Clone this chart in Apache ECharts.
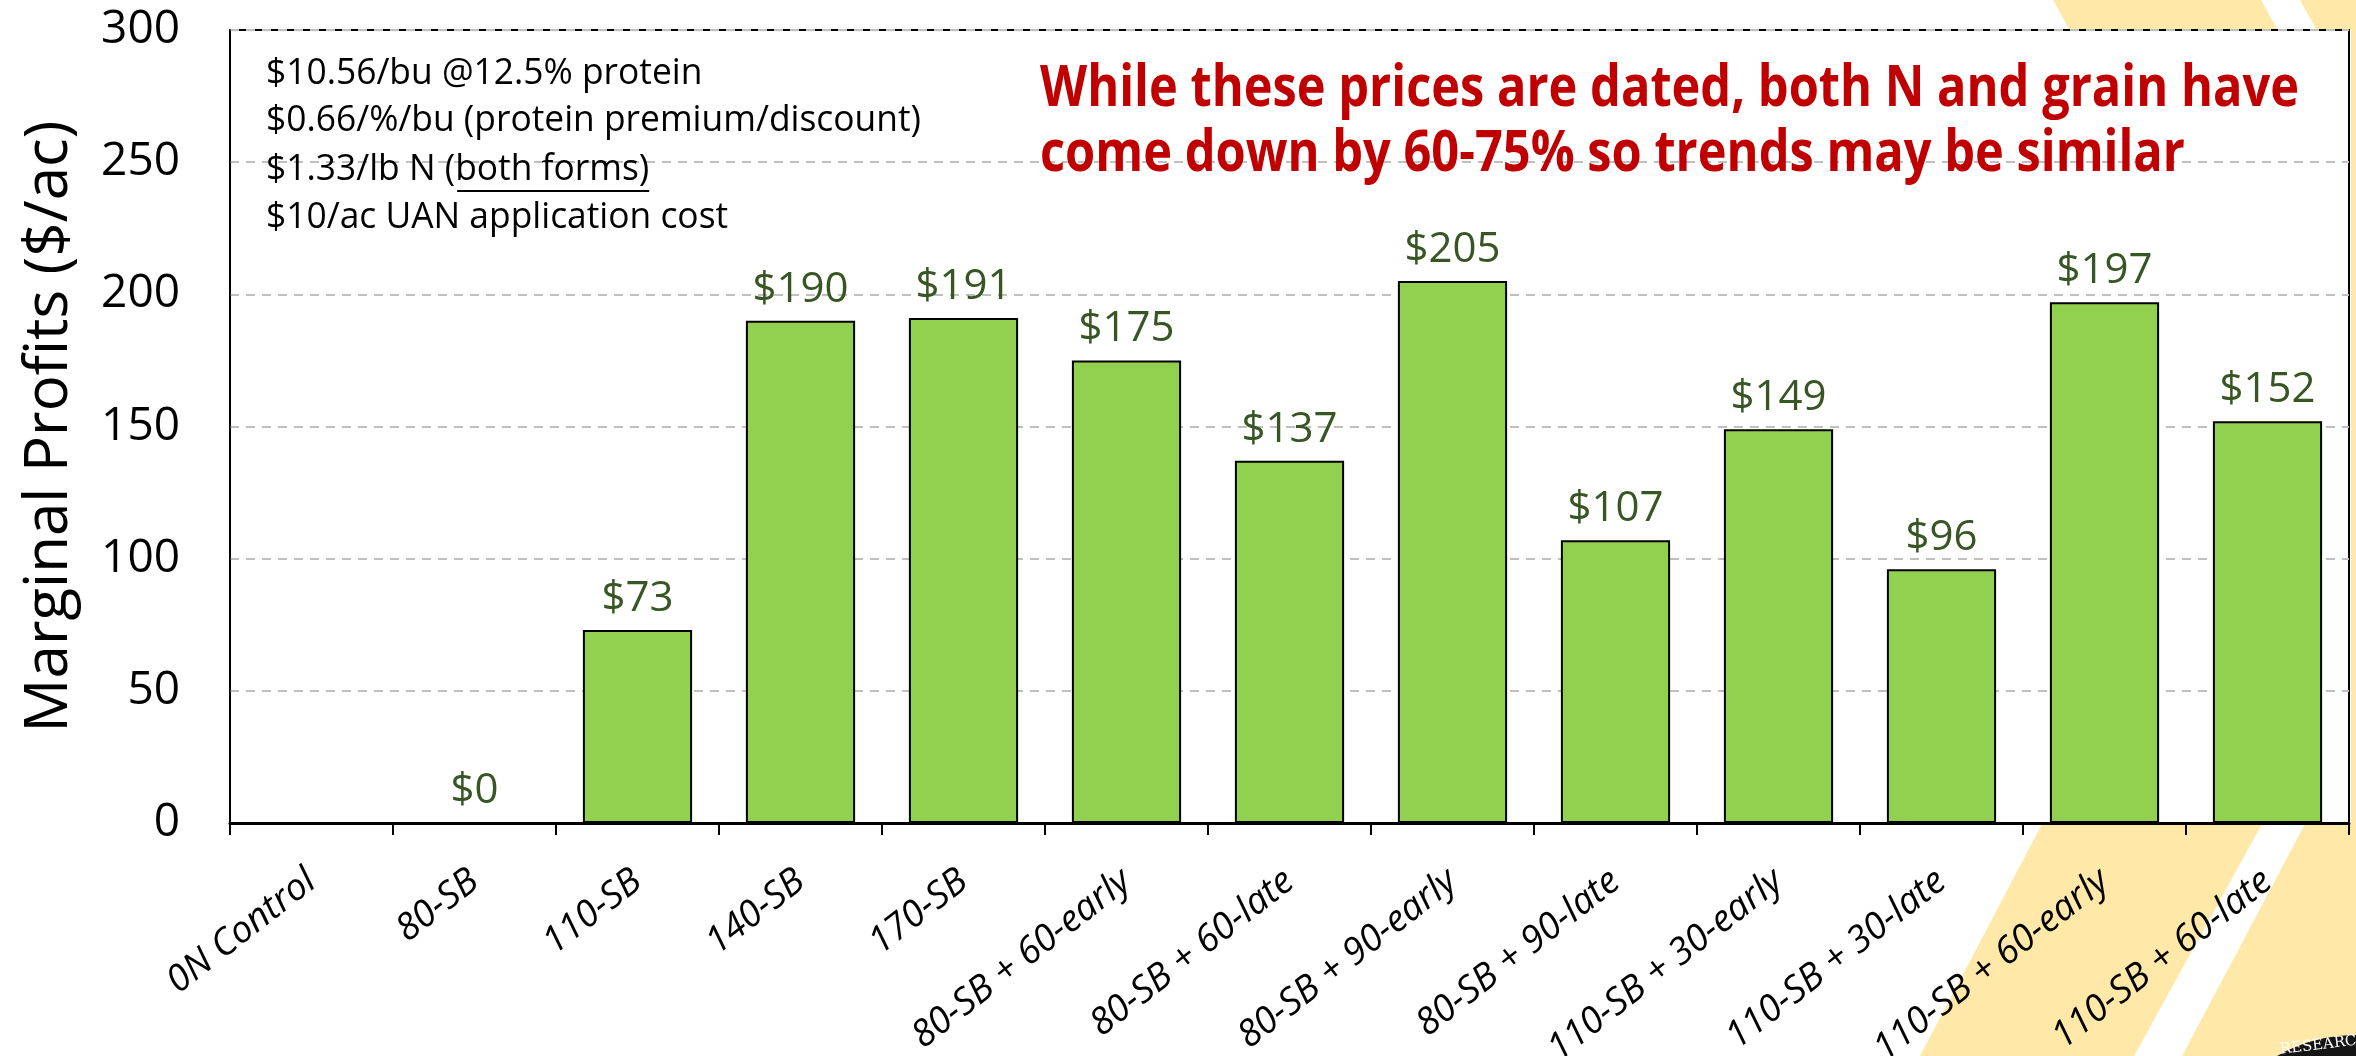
<!DOCTYPE html>
<html>
<head>
<meta charset="utf-8">
<script src="https://cdn.jsdelivr.net/npm/echarts@6/dist/echarts.min.js"></script>
<style>
html,body{margin:0;padding:0;background:#fff;}
#chart{width:2356px;height:1056px;}
</style>
</head>
<body>
<div id="chart"></div>
<script>
// ---- data ----
var categories = ["0N Control", "80-SB", "110-SB", "140-SB", "170-SB", "80-SB + 60-early", "80-SB + 60-late", "80-SB + 90-early", "80-SB + 90-late", "110-SB + 30-early", "110-SB + 30-late", "110-SB + 60-early", "110-SB + 60-late"];
var profits = [null, 0, 73, 190, 191, 175, 137, 205, 107, 149, 96, 197, 152];
var yTicks = [0, 50, 100, 150, 200, 250, 300];
var yTitle = "Marginal Profits ($/ac)";
var noteLines = ["$10.56/bu @12.5% protein", "$0.66/%/bu (protein premium/discount)", "$1.33/lb N (", "$10/ac UAN application cost"];
var noteUnderlined = "both forms)";
var redLines = ["While these prices are dated, both N and grain have", "come down by 60-75% so trends may be similar"];

// ---- helpers ----
var FONT = '"Open Sans", "Noto Sans", sans-serif';
var mctx = document.createElement('canvas').getContext('2d');
function textW(t, font) { mctx.font = font; return mctx.measureText(t).width; }

var G = { left: 230, right: 2349, top: 30, bottom: 823 };

var noteFont = '36px ' + FONT;
var noteScale = 655 / textW(noteLines[1], noteFont);
var noteX = 266, noteYs = [74, 121, 170, 218];
var redFont = 'bold 58px ' + FONT;
var redScale = 1259 / textW(redLines[0], redFont);
var redX = 1040, redYs = [89, 154];

var graphics = [];
var stripeColor = '#FFE8A8';
graphics.push({ type: 'polygon', z: -10, silent: true, shape: { points: [[1920, 1056], [2042, 824], [2262, 824], [2134, 1056]] }, style: { fill: stripeColor } });
graphics.push({ type: 'polygon', z: -10, silent: true, shape: { points: [[2182, 1056], [2305, 824], [2356, 824], [2356, 1056]] }, style: { fill: stripeColor } });
graphics.push({ type: 'polygon', z: -10, silent: true, shape: { points: [[2053, 0], [2261, 0], [2277, 29], [2069, 29]] }, style: { fill: stripeColor } });
graphics.push({ type: 'polygon', z: -10, silent: true, shape: { points: [[2300, 0], [2356, 0], [2356, 29], [2316, 29]] }, style: { fill: stripeColor } });
graphics.push({ type: 'rect', z: -10, silent: true, shape: { x: 2351, y: 0, width: 5, height: 1056 }, style: { fill: stripeColor } });
graphics.push({ type: 'circle', z: 5, silent: true, shape: { cx: 2355, cy: 1190, r: 155 }, style: { fill: '#151515' } });
graphics.push({ type: 'text', z: 6, silent: true, x: 2280, y: 1050, rotation: 0.12, style: { text: 'RESEARCH', font: '15px "DejaVu Serif", serif', fill: '#ffffff', textVerticalAlign: 'middle', verticalAlign: 'middle' } });

for (var i = 0; i < noteLines.length; i++) {
  graphics.push({ type: 'text', z: 10, silent: true, x: noteX, y: noteYs[i], scaleX: noteScale, scaleY: 1,
    style: { text: noteLines[i], font: noteFont, fill: '#000', textVerticalAlign: 'middle', verticalAlign: 'middle' } });
}
var ulX = noteX + textW(noteLines[2], noteFont) * noteScale;
graphics.push({ type: 'text', z: 10, silent: true, x: ulX, y: noteYs[2], scaleX: noteScale, scaleY: 1,
  style: { text: noteUnderlined, font: noteFont, fill: '#000', textVerticalAlign: 'middle', verticalAlign: 'middle' } });
var ulW = textW(noteUnderlined, noteFont) * noteScale;
graphics.push({ type: 'line', z: 10, silent: true, shape: { x1: ulX + 2, y1: noteYs[2] + 21, x2: ulX + ulW, y2: noteYs[2] + 21 }, style: { stroke: '#000', lineWidth: 2 } });

for (var j = 0; j < redLines.length; j++) {
  graphics.push({ type: 'text', z: 10, silent: true, x: redX, y: redYs[j], scaleX: redScale, scaleY: 1,
    style: { text: redLines[j], font: redFont, fill: '#C00000', textVerticalAlign: 'middle', verticalAlign: 'middle' } });
}

var chart = echarts.init(document.getElementById('chart'), null, { renderer: 'canvas' });
chart.setOption({
  backgroundColor: 'transparent',
  animation: false,
  grid: { left: G.left, right: 2356 - G.right, top: G.top, bottom: 1056 - G.bottom, containLabel: false, outerBoundsMode: 'none',
    show: true, backgroundColor: '#fff', borderColor: '#000', borderWidth: 2 },
  xAxis: {
    type: 'category', data: categories, boundaryGap: true,
    axisLine: { lineStyle: { color: '#000', width: 3 } },
    axisTick: { show: true, alignWithLabel: false, length: 12, lineStyle: { color: '#000', width: 2 } },
    axisLabel: { interval: 0, rotate: 38, margin: 54, fontFamily: FONT, fontStyle: 'italic', fontSize: 37, color: '#000' }
  },
  yAxis: {
    type: 'value', min: yTicks[0], max: yTicks[yTicks.length - 1], interval: 50,
    name: yTitle, nameLocation: 'middle', nameGap: 150, nameRotate: 90,
    nameTextStyle: { fontFamily: FONT, fontSize: 60, color: '#000' },
    axisLine: { show: true, lineStyle: { color: '#000', width: 1.5 } },
    axisTick: { show: false },
    axisLabel: { fontFamily: FONT, fontSize: 46, color: '#000', margin: 50 },
    splitLine: { show: true, lineStyle: { color: '#BFBFBF', width: 2, type: [9, 7] } }
  },
  series: [{
    type: 'bar', data: profits, barWidth: '67%',
    itemStyle: { color: '#92D050', borderColor: '#000', borderWidth: 2 },
    label: { show: true, position: 'top', distance: 10, fontFamily: FONT, fontSize: 42, color: '#375623',
      formatter: function (p) { return p.value == null ? '' : '$' + p.value; } }
  }],
  graphic: { elements: graphics }
});
</script>
</body>
</html>
